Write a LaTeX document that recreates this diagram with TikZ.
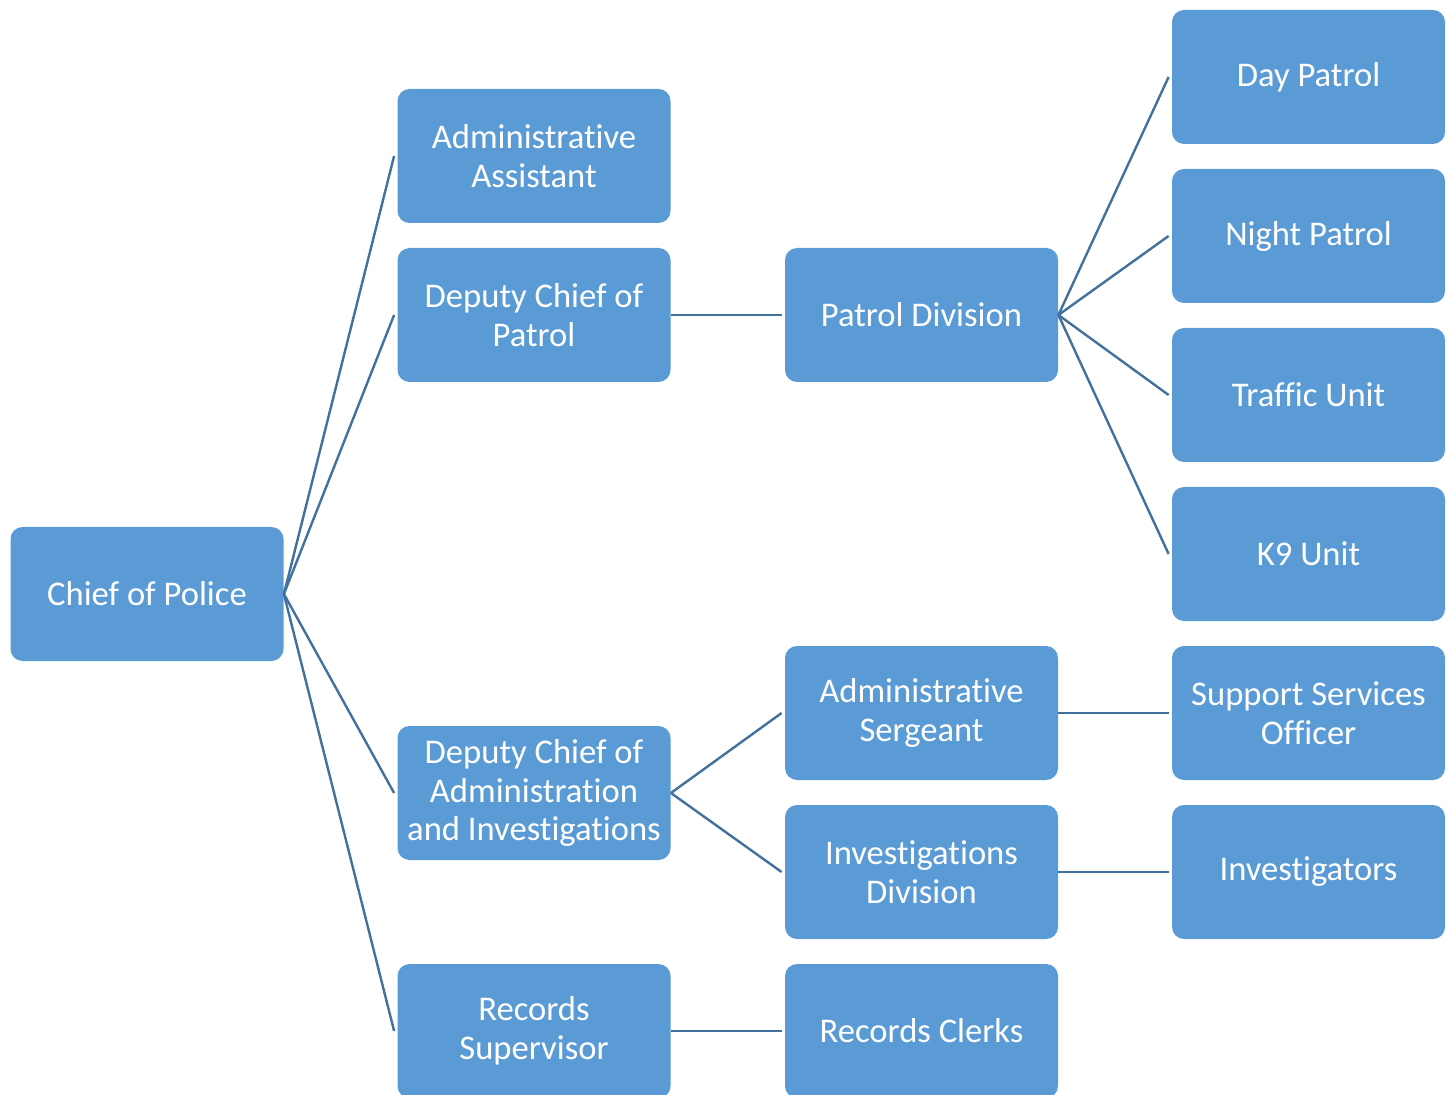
\documentclass[tikz,border=0pt]{standalone}
\usepackage{fontspec}
\setmainfont[Ligatures=NoCommon, RawFeature=-liga]{Carlito}
\definecolor{boxblue}{HTML}{5B9BD5}
\definecolor{lineblue}{HTML}{41719C}
\tikzset{
    unit/.style={fill=boxblue, text=white, rounded corners=6pt, align=center,
        minimum width=136.5pt, minimum height=67pt, inner sep=2pt,
        font=\fontsize{17.3pt}{19.4pt}\selectfont},
    link/.style={draw=lineblue, line width=1.2pt}
}
\begin{document}
\begin{tikzpicture}[x=0.5pt, y=-0.5pt]
            \useasboundingbox (0,0) rectangle (1454,1095);
            \clip (0,0) rectangle (1454,1095);
            \node[unit] (chief) at (147,594) {Chief of Police};
            \node[unit] (asst) at (534,156) {Administrative\\Assistant};
            \node[unit] (deppatrol) at (534,315) {Deputy Chief of\\Patrol};
            \node[unit] (depadmin) at (534,793) {Deputy Chief of\\Administration\\and Investigations};
            \node[unit] (recsup) at (534,1031) {Records\\Supervisor};
            \node[unit] (patroldiv) at (921.5,315) {Patrol Division};
            \node[unit] (adminsgt) at (921.5,713) {Administrative\\Sergeant};
            \node[unit] (invdiv) at (921.5,872) {Investigations\\Division};
            \node[unit] (recclerks) at (921.5,1031) {Records Clerks};
            \node[unit] (day) at (1308.5,77) {Day Patrol};
            \node[unit] (night) at (1308.5,236) {Night Patrol};
            \node[unit] (traffic) at (1308.5,395) {Traffic Unit};
            \node[unit] (knine) at (1308.5,554) {K9 Unit};
            \node[unit] (support) at (1308.5,713) {Support Services\\Officer};
            \node[unit] (invest) at (1308.5,872) {Investigators};
            \foreach \c in {asst, deppatrol, depadmin, recsup}
                \draw[link] (chief.east) -- ([xshift=-1.5pt]\c.west);
            \draw[link] (deppatrol.east) -- ([xshift=-1.5pt]patroldiv.west);
            \foreach \c in {day, night, traffic, knine}
                \draw[link] (patroldiv.east) -- ([xshift=-1.5pt]\c.west);
            \draw[link] (depadmin.east) -- ([xshift=-1.5pt]adminsgt.west);
            \draw[link] (depadmin.east) -- ([xshift=-1.5pt]invdiv.west);
            \draw[link] (recsup.east) -- ([xshift=-1.5pt]recclerks.west);
            \draw[link] (adminsgt.east) -- ([xshift=-1.5pt]support.west);
            \draw[link] (invdiv.east) -- ([xshift=-1.5pt]invest.west);
        \end{tikzpicture}
\end{document}
